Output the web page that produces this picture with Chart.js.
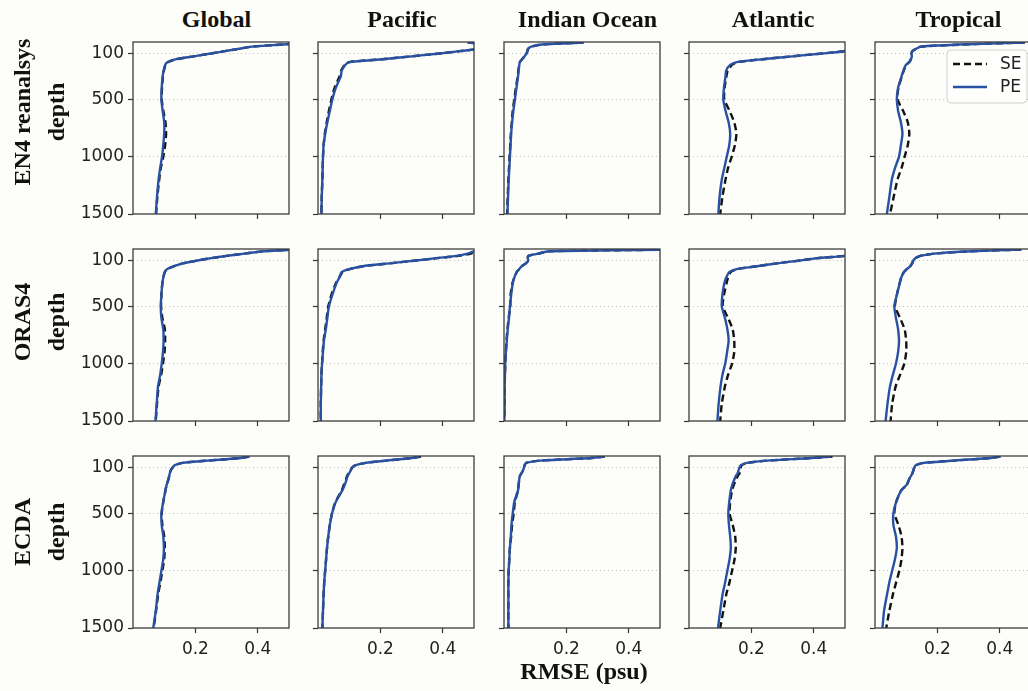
<!DOCTYPE html>
<html>
<head>
<meta charset="utf-8">
<script src="https://cdn.jsdelivr.net/npm/chart.js@4.4.1/dist/chart.umd.min.js"></script>
<style>
  html, body { margin: 0; padding: 0; background: #fdfdf9; }
  body { width: 1028px; height: 691px; position: relative; overflow: hidden; }
  canvas.panel { position: absolute; }
  .lab { position: absolute; font: bold 24px "Liberation Serif", "Times New Roman", serif; color: #111; white-space: nowrap; }
  .title { transform: translateX(-50%); }
  .rowlab { transform: translate(-50%, -50%) rotate(-90deg); text-align: center; line-height: 34px; }
</style>
</head>
<body>
<script>
/* ---------- data: RMSE (psu) against depth ---------- */
const depths = [5, 20, 40, 60, 80, 100, 125, 150, 175, 200, 250, 300, 400, 500, 600, 700, 800, 900, 1000, 1100, 1200, 1350, 1500];
const xTickValues = [0.2, 0.4];
const yTickValues = [100, 500, 1000, 1500];
const regions = ["Global", "Pacific", "Indian Ocean", "Atlantic", "Tropical"];
const products = ["EN4 reanalsys", "ORAS4", "ECDA"];
const seriesNames = ["SE", "PE"];

// EN4
const en4GlobalSE = [0.55, 0.49, 0.381, 0.338, 0.294, 0.25, 0.195, 0.139, 0.112, 0.104, 0.099, 0.096, 0.093, 0.092, 0.097, 0.104, 0.106, 0.103, 0.097, 0.089, 0.084, 0.078, 0.074];
const en4GlobalPE = [0.55, 0.49, 0.381, 0.338, 0.294, 0.25, 0.195, 0.139, 0.111, 0.103, 0.098, 0.095, 0.092, 0.091, 0.095, 0.100, 0.100, 0.097, 0.093, 0.087, 0.082, 0.077, 0.073];
const en4PacificSE = [0.48, 0.56, 0.54, 0.515, 0.454, 0.39, 0.30, 0.207, 0.10, 0.086, 0.074, 0.069, 0.053, 0.043, 0.035, 0.028, 0.022, 0.018, 0.016, 0.015, 0.014, 0.012, 0.011];
const en4PacificPE = [0.48, 0.56, 0.54, 0.515, 0.454, 0.39, 0.30, 0.207, 0.10, 0.087, 0.076, 0.073, 0.057, 0.046, 0.038, 0.030, 0.023, 0.018, 0.016, 0.015, 0.014, 0.012, 0.011];
const en4IndianSE = [0.255, 0.129, 0.087, 0.077, 0.075, 0.072, 0.066, 0.058, 0.051, 0.049, 0.046, 0.044, 0.038, 0.033, 0.028, 0.025, 0.022, 0.020, 0.018, 0.016, 0.014, 0.012, 0.010];
const en4IndianPE = [0.255, 0.129, 0.087, 0.077, 0.075, 0.072, 0.066, 0.058, 0.051, 0.049, 0.047, 0.045, 0.040, 0.035, 0.030, 0.026, 0.023, 0.021, 0.019, 0.017, 0.015, 0.013, 0.011];
const en4AtlanticSE = [0.60, 0.58, 0.56, 0.53, 0.50, 0.428, 0.331, 0.236, 0.156, 0.138, 0.124, 0.120, 0.114, 0.113, 0.130, 0.145, 0.152, 0.147, 0.137, 0.125, 0.117, 0.107, 0.100];
const en4AtlanticPE = [0.60, 0.58, 0.56, 0.53, 0.50, 0.428, 0.331, 0.236, 0.153, 0.132, 0.119, 0.117, 0.112, 0.110, 0.117, 0.127, 0.132, 0.129, 0.121, 0.113, 0.105, 0.098, 0.094];
const en4TropicalSE = [0.48, 0.30, 0.147, 0.131, 0.120, 0.117, 0.118, 0.115, 0.110, 0.100, 0.092, 0.086, 0.075, 0.072, 0.090, 0.105, 0.110, 0.105, 0.095, 0.085, 0.072, 0.060, 0.048];
const en4TropicalPE = [0.48, 0.30, 0.147, 0.131, 0.120, 0.117, 0.118, 0.115, 0.110, 0.099, 0.091, 0.085, 0.074, 0.070, 0.074, 0.083, 0.088, 0.083, 0.077, 0.064, 0.054, 0.046, 0.038];
// ORAS4
const orasGlobalSE = [0.52, 0.42, 0.357, 0.30, 0.25, 0.207, 0.159, 0.132, 0.110, 0.102, 0.097, 0.094, 0.091, 0.090, 0.094, 0.102, 0.103, 0.101, 0.096, 0.090, 0.082, 0.077, 0.073];
const orasGlobalPE = [0.52, 0.42, 0.357, 0.30, 0.25, 0.207, 0.159, 0.132, 0.110, 0.102, 0.097, 0.094, 0.091, 0.089, 0.091, 0.097, 0.098, 0.096, 0.092, 0.087, 0.080, 0.076, 0.072];
const orasPacificSE = [0.53, 0.51, 0.49, 0.45, 0.382, 0.316, 0.23, 0.145, 0.102, 0.079, 0.068, 0.057, 0.043, 0.033, 0.028, 0.023, 0.018, 0.015, 0.013, 0.011, 0.010, 0.009, 0.009];
const orasPacificPE = [0.52, 0.50, 0.48, 0.443, 0.379, 0.314, 0.229, 0.143, 0.100, 0.076, 0.068, 0.059, 0.046, 0.035, 0.030, 0.025, 0.019, 0.016, 0.013, 0.011, 0.010, 0.009, 0.009];
const orasIndianSE = [0.55, 0.143, 0.110, 0.078, 0.076, 0.078, 0.070, 0.057, 0.049, 0.041, 0.033, 0.027, 0.021, 0.020, 0.015, 0.011, 0.008, 0.006, 0.004, 0.003, 0.002, 0.002, 0.001];
const orasIndianPE = [0.55, 0.143, 0.110, 0.078, 0.076, 0.078, 0.070, 0.057, 0.049, 0.041, 0.033, 0.028, 0.023, 0.019, 0.016, 0.012, 0.009, 0.006, 0.004, 0.003, 0.002, 0.002, 0.001];
const orasAtlanticSE = [0.60, 0.57, 0.53, 0.50, 0.411, 0.357, 0.282, 0.218, 0.156, 0.134, 0.125, 0.120, 0.112, 0.108, 0.125, 0.140, 0.145, 0.145, 0.138, 0.125, 0.115, 0.105, 0.100];
const orasAtlanticPE = [0.60, 0.57, 0.53, 0.50, 0.411, 0.357, 0.282, 0.218, 0.153, 0.130, 0.119, 0.113, 0.107, 0.105, 0.115, 0.123, 0.127, 0.122, 0.116, 0.107, 0.101, 0.095, 0.091];
const orasTropicalSE = [0.469, 0.308, 0.19, 0.145, 0.129, 0.123, 0.119, 0.113, 0.102, 0.093, 0.084, 0.079, 0.070, 0.064, 0.080, 0.095, 0.100, 0.100, 0.094, 0.080, 0.066, 0.055, 0.050];
const orasTropicalPE = [0.469, 0.308, 0.19, 0.145, 0.129, 0.123, 0.119, 0.113, 0.102, 0.093, 0.084, 0.079, 0.070, 0.062, 0.067, 0.074, 0.077, 0.074, 0.067, 0.057, 0.048, 0.040, 0.034];
// ECDA
const ecdaGlobalSE = [0.373, 0.336, 0.239, 0.159, 0.134, 0.127, 0.121, 0.118, 0.116, 0.114, 0.108, 0.104, 0.097, 0.092, 0.094, 0.100, 0.102, 0.100, 0.094, 0.088, 0.081, 0.074, 0.066];
const ecdaGlobalPE = [0.373, 0.336, 0.239, 0.159, 0.134, 0.127, 0.121, 0.118, 0.116, 0.114, 0.108, 0.104, 0.097, 0.091, 0.092, 0.097, 0.099, 0.097, 0.091, 0.085, 0.079, 0.073, 0.065];
const ecdaPacificSE = [0.33, 0.295, 0.22, 0.153, 0.121, 0.110, 0.104, 0.098, 0.093, 0.090, 0.083, 0.076, 0.056, 0.045, 0.038, 0.033, 0.029, 0.026, 0.023, 0.020, 0.018, 0.016, 0.014];
const ecdaPacificPE = [0.325, 0.293, 0.218, 0.153, 0.121, 0.110, 0.105, 0.100, 0.095, 0.092, 0.086, 0.078, 0.057, 0.045, 0.038, 0.033, 0.029, 0.026, 0.023, 0.020, 0.018, 0.016, 0.014];
const ecdaIndianSE = [0.323, 0.266, 0.115, 0.071, 0.066, 0.064, 0.061, 0.056, 0.051, 0.049, 0.047, 0.045, 0.035, 0.031, 0.026, 0.023, 0.019, 0.017, 0.015, 0.014, 0.014, 0.014, 0.014];
const ecdaIndianPE = [0.323, 0.266, 0.115, 0.071, 0.066, 0.064, 0.061, 0.056, 0.051, 0.049, 0.047, 0.045, 0.033, 0.028, 0.024, 0.022, 0.019, 0.017, 0.015, 0.014, 0.014, 0.014, 0.014];
const ecdaAtlanticSE = [0.46, 0.38, 0.25, 0.186, 0.168, 0.166, 0.164, 0.162, 0.156, 0.152, 0.144, 0.138, 0.132, 0.130, 0.140, 0.148, 0.150, 0.146, 0.138, 0.130, 0.120, 0.110, 0.100];
const ecdaAtlanticPE = [0.454, 0.379, 0.25, 0.186, 0.166, 0.162, 0.159, 0.156, 0.150, 0.146, 0.139, 0.134, 0.129, 0.126, 0.128, 0.132, 0.134, 0.130, 0.123, 0.116, 0.108, 0.100, 0.093];
const ecdaTropicalSE = [0.402, 0.36, 0.252, 0.156, 0.131, 0.126, 0.123, 0.120, 0.115, 0.110, 0.102, 0.084, 0.068, 0.062, 0.075, 0.085, 0.088, 0.085, 0.078, 0.068, 0.058, 0.046, 0.036];
const ecdaTropicalPE = [0.402, 0.36, 0.252, 0.156, 0.131, 0.126, 0.123, 0.120, 0.115, 0.110, 0.102, 0.084, 0.068, 0.059, 0.059, 0.067, 0.070, 0.064, 0.055, 0.046, 0.039, 0.029, 0.024];

// [row][col] -> [SE, PE]
const panels = [
  [[en4GlobalSE, en4GlobalPE], [en4PacificSE, en4PacificPE], [en4IndianSE, en4IndianPE], [en4AtlanticSE, en4AtlanticPE], [en4TropicalSE, en4TropicalPE]],
  [[orasGlobalSE, orasGlobalPE], [orasPacificSE, orasPacificPE], [orasIndianSE, orasIndianPE], [orasAtlanticSE, orasAtlanticPE], [orasTropicalSE, orasTropicalPE]],
  [[ecdaGlobalSE, ecdaGlobalPE], [ecdaPacificSE, ecdaPacificPE], [ecdaIndianSE, ecdaIndianPE], [ecdaAtlanticSE, ecdaAtlanticPE], [ecdaTropicalSE, ecdaTropicalPE]],
];

/* ---------- layout ---------- */
const colLefts = [132.5, 318, 503.5, 689, 874.5];
const rowTops = [42, 249, 456];
const plotW = 156, plotH = 172;
const padL = 62, padT = 4, padR = 6, padB = 32;
const PE_COLOR = "#2951a3";
const tickFont = { family: "DejaVu Sans", size: 17 };

// no extra room for tick labels at the ends of the axes
const noPad = (s) => { s.paddingTop = 0; s.paddingBottom = 0; s.paddingLeft = 0; s.paddingRight = 0; };

// box around every axes
const frame = {
  id: "frame",
  afterDraw(chart) {
    const { ctx, chartArea: a } = chart;
    ctx.save();
    ctx.strokeStyle = "#3d3d3d";
    ctx.lineWidth = 1.3;
    ctx.strokeRect(a.left, a.top, a.right - a.left, a.bottom - a.top);
    ctx.restore();
  },
};

// matplotlib-like legend drawn inside the axes
const legendBox = {
  id: "legendBox",
  afterDraw(chart, args, opts) {
    if (!opts.show) return;
    const { ctx, chartArea: a } = chart;
    const w = 80, h = 53;
    const x = a.right - 4 - w, y = a.top + 8;
    ctx.save();
    ctx.fillStyle = "rgba(255,255,255,0.85)";
    ctx.strokeStyle = "#d0d0d0";
    ctx.lineWidth = 1;
    ctx.beginPath();
    if (ctx.roundRect) ctx.roundRect(x, y, w, h, 4); else ctx.rect(x, y, w, h);
    ctx.fill();
    ctx.stroke();
    const rows = [
      { label: seriesNames[0], color: "#111", dash: [7, 4], yy: y + 14 },
      { label: seriesNames[1], color: PE_COLOR, dash: [], yy: y + 37 },
    ];
    ctx.font = "17px 'DejaVu Sans'";
    ctx.textBaseline = "middle";
    rows.forEach((r) => {
      ctx.strokeStyle = r.color;
      ctx.lineWidth = 2.4;
      ctx.setLineDash(r.dash);
      ctx.beginPath();
      ctx.moveTo(x + 6, r.yy);
      ctx.lineTo(x + 40, r.yy);
      ctx.stroke();
      ctx.setLineDash([]);
      ctx.fillStyle = "#222";
      ctx.fillText(r.label, x + 53, r.yy + 1);
    });
    ctx.restore();
  },
};

const toPoints = (vals) => depths.map((d, i) => ({ x: vals[i], y: d }));

panels.forEach((rowData, r) => {
  rowData.forEach(([se, pe], c) => {
    const cv = document.createElement("canvas");
    cv.className = "panel";
    const W = padL + plotW + padR, H = padT + plotH + padB;
    cv.width = W; cv.height = H;
    cv.style.width = W + "px"; cv.style.height = H + "px";
    cv.style.left = (colLefts[c] - padL) + "px";
    cv.style.top = (rowTops[r] - padT) + "px";
    document.body.appendChild(cv);

    new Chart(cv, {
      type: "scatter",
      plugins: [frame, legendBox],
      data: {
        datasets: [
          { label: seriesNames[1], data: toPoints(pe), showLine: true, borderColor: PE_COLOR, borderWidth: 2.4, tension: 0.2, pointRadius: 0, clip: 0 },
          { label: seriesNames[0], data: toPoints(se), showLine: true, borderColor: "#111", borderWidth: 2.4, borderDash: [7, 4], tension: 0.2, pointRadius: 0, clip: 0 },
        ],
      },
      options: {
        responsive: false,
        animation: false,
        devicePixelRatio: 1,
        layout: { padding: { top: padT, right: padR, left: 0, bottom: 0 } },
        plugins: {
          legend: { display: false },
          tooltip: { enabled: false },
          legendBox: { show: r === 0 && c === 4 },
        },
        scales: {
          x: {
            type: "linear", min: 0, max: 0.5,
            afterBuildTicks: (s) => { s.ticks = xTickValues.map((v) => ({ value: v })); },
            afterFit: (s) => { s.height = padB; noPad(s); },
            grid: { drawOnChartArea: false, tickLength: 5, tickColor: "#333", tickWidth: 1.2 },
            border: { display: false },
            ticks: { autoSkip: false, maxRotation: 0, padding: 6, font: tickFont, color: "#222",
              callback: (v) => (r === 2 ? v.toFixed(1) : "") },
          },
          y: {
            type: "linear", min: 0, max: 1500, reverse: true,
            afterBuildTicks: (s) => { s.ticks = yTickValues.map((v) => ({ value: v })); },
            afterFit: (s) => { s.width = padL; noPad(s); },
            grid: {
              color: (ctx) => (ctx.tick && ctx.tick.value === 1500 ? "rgba(0,0,0,0)" : "#c2c2c2"),
              lineWidth: 1, tickLength: 5, tickColor: "#333", tickWidth: 1.2,
            },
            border: { display: false, dash: [1, 3] },
            ticks: { autoSkip: false, padding: 4, font: tickFont, color: "#222",
              callback: (v) => (c === 0 ? String(v) : "") },
          },
        },
      },
    });
  });
});

/* ---------- titles and axis labels ---------- */
function addLabel(cls, html, left, top) {
  const d = document.createElement("div");
  d.className = "lab " + cls;
  d.innerHTML = html;
  d.style.left = left + "px";
  d.style.top = top + "px";
  document.body.appendChild(d);
}
regions.forEach((name, c) => addLabel("title", name, colLefts[c] + plotW / 2 + 6, 6));
const rowLabelCenters = [112, 322, 532];
products.forEach((name, r) => addLabel("rowlab", name + "<br>depth", 39, rowLabelCenters[r]));
addLabel("title", "RMSE (psu)", 584, 658);
</script>
</body>
</html>
